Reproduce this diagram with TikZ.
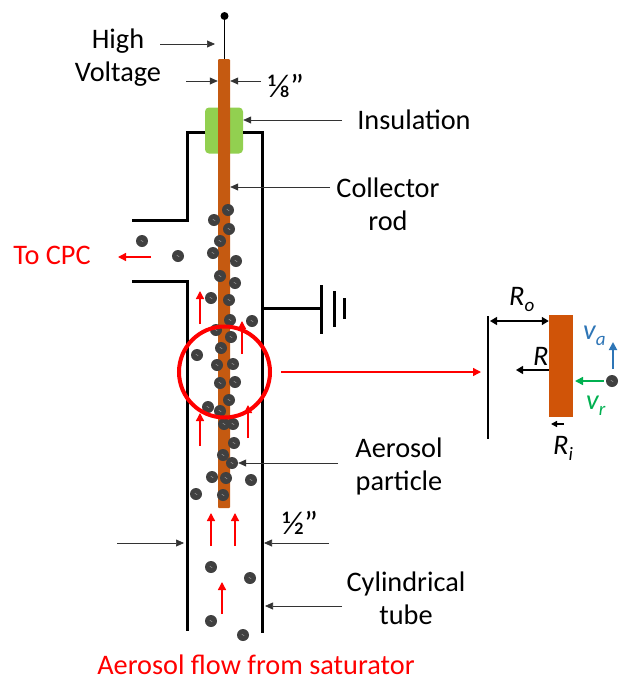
\documentclass[tikz,border=0pt]{standalone}
\usepackage{fontspec}
\setmainfont{Carlito}
\usetikzlibrary{arrows.meta}
\definecolor{rodcolor}{HTML}{C55A11}
\definecolor{detailrod}{HTML}{D05408}
\definecolor{insulcolor}{HTML}{92D050}
\definecolor{partcolor}{HTML}{404040}
\definecolor{flowred}{HTML}{FF0000}
\definecolor{vablue}{HTML}{2E75B6}
\definecolor{vrgreen}{HTML}{00B050}
\newcommand{\lowsub}[1]{\raisebox{-6pt}{\fontsize{19}{19}\selectfont #1}}
\tikzset{
  wall/.style={line width=3pt,line cap=butt,line join=miter},
  particle/.style={circle,fill=partcolor,inner sep=0pt,minimum size=12pt,
    path picture={\draw[white!60!black,line width=.5pt] (-1.2pt,.9pt) -- (1.2pt,-.9pt);}},
  pointer/.style={draw=black!80,line width=.7pt,-{Triangle[length=8pt,width=7pt]}},
  flow/.style={draw=flowred,line width=1.4pt,-{Triangle[length=8pt,width=8pt]}},
  label/.style={font=\fontsize{28.3}{33}\selectfont,align=center,inner sep=0pt},
  fraction/.style={font=\fontsize{33}{33}\selectfont,inner sep=0pt},
  redlabel/.style={label,text=flowred},
  symbol/.style={font=\fontsize{28.3}{33}\selectfont\itshape,inner sep=0pt,anchor=base west}
}
\begin{document}
\begin{tikzpicture}[x=1pt,y=-1pt]
  \useasboundingbox (0,0) rectangle (623,681);

  % collector and insulation
  \node[fill=insulcolor,rounded corners=4pt,minimum width=38pt,minimum height=46pt,inner sep=0pt] (insul) at (224,130.5) {};
  \draw[wall] (205,132) -- (187,132) -- (187,220) -- (132,220);
  \draw[wall] (132,281) -- (187,281) -- (187,631);
  \draw[wall] (243,132) -- (262,132) -- (262,633);
  \node[fill=rodcolor,rounded corners=1pt,minimum width=12pt,minimum height=449pt,inner sep=0pt] (rod) at (224,283.5) {};

  % high voltage lead
  \node[circle,fill=black,inner sep=0pt,minimum size=8pt] (tip) at (224.5,16) {};
  \draw[line width=.7pt] (tip) -- (tip |- rod.north);

  % ground
  \coordinate (gnd) at (321,308);
  \draw[wall] (262,308) -- (gnd);
  \draw[wall] (321,285) -- (321,334);
  \draw[wall] (334,291) -- (334,327);
  \draw[wall] (344,298) -- (344,319);

  % particles
  \begin{scope}[every node/.style={particle}]
    \node (p1)  at (228,210) {};
    \node (p2)  at (214,220) {};
    \node (p3)  at (229,229) {};
    \node (p4)  at (220,241) {};
    \node (p5)  at (213,253) {};
    \node (p6)  at (236,261) {};
    \node (p7)  at (220,276) {};
    \node (p8)  at (235,283) {};
    \node (p9)  at (211,298) {};
    \node (p10) at (229,300) {};
    \node (p11) at (230,320) {};
    \node (p12) at (252,321) {};
    \node (p13) at (216,330) {};
    \node (p14) at (231,337) {};
    \node (p15) at (221,348) {};
    \node (p16) at (197,355) {};
    \node (p17) at (217,365) {};
    \node (p18) at (233,364) {};
    \node (p19) at (220,383) {};
    \node (p20) at (235,382) {};
    \node (p21) at (229,400) {};
    \node (p22) at (208,407) {};
    \node (p23) at (220,411) {};
    \node (p24) at (233,424) {};
    \node (p25) at (224,424) {};
    \node (p26) at (234,443) {};
    \node (p27) at (223,455) {};
    \node (p28) at (232,463) {};
    \node (p29) at (212,477) {};
    \node (p30) at (226,478) {};
    \node (p31) at (251,480) {};
    \node (p32) at (196,494) {};
    \node (p33) at (223,495) {};
    \node (p34) at (211,567) {};
    \node (p35) at (250,578) {};
    \node (p36) at (211,621) {};
    \node (p37) at (243,635) {};
    \node (p38) at (142,241) {};
    \node (p39) at (178,256) {};
    \node (p40) at (612,381) {};
  \end{scope}

  % flow arrows
  \begin{scope}[every path/.style={flow}]
    \path (200,324) -- (200,291);
    \path (242,354) -- (242,321);
    \path (200,446) -- (200,413);
    \path (248,438) -- (248,405);
    \path (211,546) -- (211,513);
    \path (235,546) -- (235,513);
    \path (222,614) -- (222,582);
    \path (151,257) -- (118,257);
  \end{scope}

  % labels
  \node[label] (hv)      at (118,57.5) {High\\Voltage};
  \node[fraction] (eighth) at (286,86) {⅛”};
  \node[label] (ins)     at (414,120) {Insulation};
  \node[label] (coll)    at (388,204) {Collector\\rod};
  \node[label] (aer)     at (399,466) {Aerosol\\particle};
  \node[fraction] (half) at (300,523) {½”};
  \node[label] (cyl)     at (406,598) {Cylindrical\\tube};
  \node[redlabel] (cpc)  at (52,255)  {To CPC};
  \node[redlabel] (src)  at (256,665) {Aerosol flow from saturator};

  % pointers
  \coordinate (hvarrow) at (160,44);
  \coordinate (hvend) at (215,44);
  \draw[pointer] (hvarrow) -- (hvend);
  \coordinate (rodl) at (186,81);
  \coordinate (rodr) at (261,81);
  \draw[pointer] (rodl) -- (rodl -| rod.west);
  \draw[pointer] (rodr) -- (rodr -| rod.east);
  \coordinate (insarrow) at (342,120);
  \draw[pointer] (insarrow) -- (insarrow -| insul.east);
  \coordinate (collarrow) at (330,187);
  \draw[pointer] (collarrow) -- (collarrow -| rod.east);
  \coordinate (aerarrow) at (338,463);
  \draw[pointer] (aerarrow) -- (p28.east);
  \coordinate (tubel) at (117,543);
  \coordinate (tubelend) at (184,543);
  \coordinate (tuber) at (329,543);
  \coordinate (tuberend) at (264,543);
  \draw[pointer] (tubel) -- (tubelend);
  \draw[pointer] (tuber) -- (tuberend);
  \coordinate (cylarrow) at (342,606);
  \coordinate (cylend) at (265,606);
  \draw[pointer] (cylarrow) -- (cylend);

  % magnifier
  \node[circle,draw=flowred,line width=4pt,inner sep=0pt,minimum size=91pt] (zoom) at (224.5,372) {};
  \coordinate (zoomstart) at (281,372);
  \coordinate (zoomend) at (481,372);
  \draw[flow] (zoomstart) -- (zoomend);

  % detail
  \coordinate (wtop) at (488,316);
  \coordinate (wbot) at (488,439);
  \draw[line width=2pt] (wtop) -- (wbot);
  \node[fill=detailrod,minimum width=24pt,minimum height=102pt,inner sep=0pt] (drod) at (561,366) {};
  \coordinate (ro) at (490,321);
  \draw[line width=1.4pt,{Triangle[length=7pt,width=8pt]}-{Triangle[length=7pt,width=8pt]}] (ro) -- (ro -| drod.west);
  \coordinate (rr) at (516,370);
  \draw[line width=1.4pt,-{Triangle[length=7pt,width=8pt]}] (rr -| drod.west) -- (rr);
  \coordinate (ri) at (564,424);
  \coordinate (riend) at (551,424);
  \draw[line width=1.4pt,-{Triangle[length=6pt,width=6pt]}] (ri) -- (riend);
  \draw[vrgreen,line width=1.6pt,shorten <=2pt,-{Triangle[length=8pt,width=8pt]}] (p40.west) -- (p40.west -| 575,0);
  \coordinate (va) at (613,369);
  \coordinate (vaend) at (613,342);
  \draw[vablue,line width=1.8pt,-{Triangle[length=8pt,width=8pt]}] (va) -- (vaend);
  \node[symbol] (rolabel) at (509,305) {R\lowsub{o}};
  \node[symbol] (rlabel)  at (533,365) {R};
  \node[symbol] (rilabel) at (553,454) {R\lowsub{i}};
  \node[symbol,text=vablue]  (valabel) at (583,339) {v\lowsub{a}};
  \node[symbol,text=vrgreen] (vrlabel) at (586,409) {v\lowsub{r}};
\end{tikzpicture}
\end{document}
